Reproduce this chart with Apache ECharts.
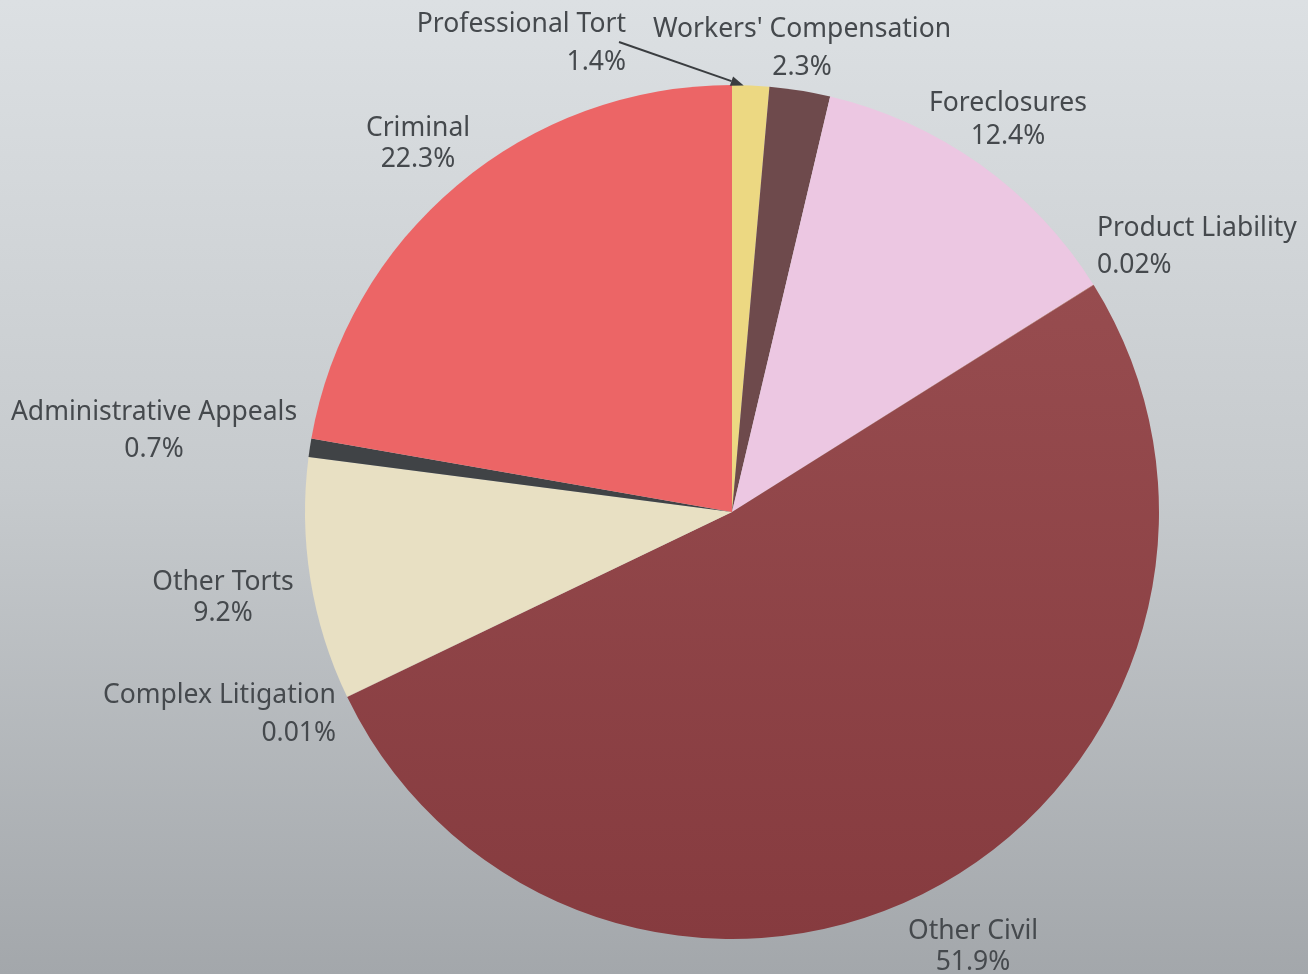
<!DOCTYPE html>
<html>
<head>
<meta charset="utf-8">
<script src="https://cdn.jsdelivr.net/npm/echarts@6/dist/echarts.min.js"></script>
<style>
html,body{margin:0;padding:0;}
#main{width:1308px;height:974px;}
</style>
</head>
<body>
<div id="main"></div>
<script>
// ---- data ----
const categories = ["Professional Tort", "Workers' Compensation", "Foreclosures", "Product Liability", "Other Civil", "Complex Litigation", "Other Torts", "Administrative Appeals", "Criminal"];
const values = [1.4, 2.3, 12.4, 0.02, 51.9, 0.01, 9.2, 0.7, 22.3];
const valueLabels = ["1.4%", "2.3%", "12.4%", "0.02%", "51.9%", "0.01%", "9.2%", "0.7%", "22.3%"];

// ---- styles ----
const sliceColors = [
  '#ecd882', '#6e4a4c', '#ecc7e2', '#b0603e',
  {type:'linear', x:0, y:0, x2:0, y2:1, colorStops:[{offset:0,color:'#974c4f'},{offset:1,color:'#863b3f'}]},
  '#c07a70', '#e8e0c3', '#404346', '#ec6566'
];
// label anchor positions [x, y, align, lineHeight]
const labelPos = [
  [626, 43, 'right', 38],
  [802, 48, 'center', 38],
  [1008, 120, 'center', 33],
  [1097, 247, 'left', 37],
  [973, 947, 'center', 31],
  [336, 714, 'right', 38],
  [223, 598, 'center', 31],
  [154, 431, 'center', 37],
  [418, 144, 'center', 31]
];
const arrowStart = [619, 42];
const textColor = '#45494d';

const chart = echarts.init(document.getElementById('main'), null, {renderer:'canvas'});

const seriesData = categories.map((name, i) => ({
  name: name,
  value: values[i],
  itemStyle: {color: sliceColors[i]},
  label: {lineHeight: labelPos[i][3]}
}));

const option = {
  animation: false,
  backgroundColor: {type:'linear', x:0, y:0, x2:0, y2:1, colorStops:[{offset:0,color:'#dce0e3'},{offset:0.5,color:'#c6cacd'},{offset:1,color:'#a3a7ab'}]},
  series: [{
    type: 'pie',
    center: [732, 512],
    radius: 427,
    startAngle: 90,
    clockwise: true,
    avoidLabelOverlap: false,
    minShowLabelAngle: 0,
    emphasis: {disabled: true},
    itemStyle: {borderWidth: 0},
    label: {
      show: true,
      position: 'outside',
      color: textColor,
      fontFamily: 'Noto Sans',
      fontSize: 26.5,
      formatter: (p) => p.name + '\n' + valueLabels[p.dataIndex]
    },
    labelLine: {show: false},
    labelLayout: (params) => {
      const lp = labelPos[params.dataIndex];
      return {x: lp[0], y: lp[1], align: lp[2], verticalAlign: 'middle', hideOverlap: false};
    },
    data: seriesData
  }]
};
chart.setOption(option);

// arrow for Professional Tort, ending at the slice's outer edge (from the pie layout)
const lay = chart.getModel().getSeriesByIndex(0).getData().getItemLayout(0);
const mid = (lay.startAngle + lay.endAngle) / 2;
const tip = [lay.cx + lay.r * Math.cos(mid) - 7, lay.cy + lay.r * Math.sin(mid)];
const dx = tip[0] - arrowStart[0], dy = tip[1] - arrowStart[1];
const len = Math.sqrt(dx*dx + dy*dy);
const ux = dx/len, uy = dy/len;
const ah = 13, aw = 5;
const base = [tip[0] - ux*ah, tip[1] - uy*ah];
chart.setOption({
  graphic: [
    {type:'line', shape:{x1:arrowStart[0], y1:arrowStart[1], x2:base[0], y2:base[1]}, style:{stroke:'#3a3d40', lineWidth:2}, z:100},
    {type:'polygon', shape:{points:[tip, [base[0]-uy*aw, base[1]+ux*aw], [base[0]+uy*aw, base[1]-ux*aw]]}, style:{fill:'#3a3d40'}, z:100}
  ]
});
</script>
</body>
</html>
